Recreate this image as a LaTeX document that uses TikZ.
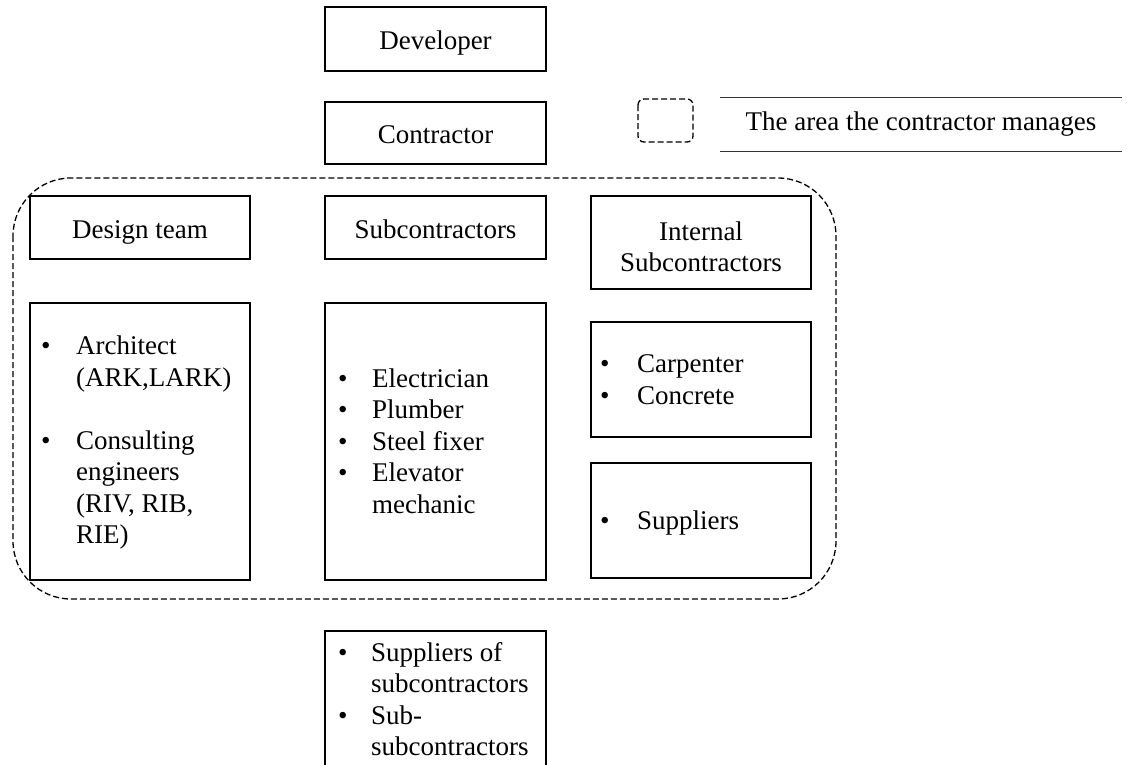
\documentclass[tikz,border=0pt]{standalone}
\usepackage{fontspec}
\setmainfont{Liberation Serif}
\begin{document}
\begin{tikzpicture}[x=1pt,y=-1pt,
  box/.style={draw, line width=1.1pt, inner sep=0pt, align=center,
    minimum width=221pt, font=\fontsize{27}{31.5}\selectfont},
  oneline/.style={text height=25pt, text depth=4pt},
  listtext/.style={anchor=west, inner sep=0pt,
    font=\fontsize{27}{31.5}\selectfont},
  area/.style={draw, dashed, dash pattern=on 6pt off 3pt, line width=1.3pt},
  rule/.style={draw, line width=0.9pt, black!80}]
\clip (0,0) rectangle (1127,764);
\fill[white] (0,0) rectangle (1127,764);

% top of the hierarchy
\node[box, oneline, minimum height=64pt] (dev) at (435.5,39) {Developer};
\node[box, oneline, minimum height=62pt] (con) at (435.5,133) {Contractor};

% column headings
\node[box, oneline, minimum width=220pt, minimum height=63pt] (design) at (140,227.5) {Design team};
\node[box, oneline, minimum height=63pt] (sub) at (435.5,227.5) {Subcontractors};
\node[box, minimum width=220pt, minimum height=93pt] (internal) at (701,242.5) {};
\node[inner sep=0pt, align=center, font=\fontsize{27}{31.5}\selectfont]
  (internaltext) at (701,247) {Internal\\[-1pt]Subcontractors};

% list boxes
\node[box, minimum width=220pt, minimum height=277pt] (designlist) at (140,441.5) {};
\node[box, minimum height=277pt] (sublist) at (435.5,441.5) {};
\node[box, minimum width=220pt, minimum height=115pt] (own) at (701,379.5) {};
\node[box, minimum width=220pt, minimum height=115pt] (supp) at (701,520.5) {};
\node[box, minimum height=140pt] (lower) at (435.5,701) {};

% list contents
\node[listtext] (designitems) at (41,443) {\begin{tabular}{@{}p{35pt}@{}l@{}}
\textbullet & Architect\\
 & (ARK,LARK)\\
 & \\
\textbullet & Consulting\\
 & engineers\\
 & (RIV, RIB,\\
 & RIE)
\end{tabular}};
\node[listtext] (subitems) at (338,444) {\begin{tabular}{@{}p{34pt}@{}l@{}}
\textbullet & Electrician\\
\textbullet & Plumber\\
\textbullet & Steel fixer\\
\textbullet & Elevator\\
 & mechanic
\end{tabular}};
\node[listtext] (ownitems) at (600,382) {\begin{tabular}{@{}p{37pt}@{}l@{}}
\textbullet & Carpenter\\
\textbullet & Concrete
\end{tabular}};
\node[listtext] (suppitems) at (600,523) {\begin{tabular}{@{}p{37pt}@{}l@{}}
\textbullet & Suppliers
\end{tabular}};
\node[listtext] (loweritems) at (338,702) {\begin{tabular}{@{}p{33pt}@{}l@{}}
\textbullet & Suppliers of\\
 & subcontractors\\
\textbullet & Sub-\\
 & subcontractors
\end{tabular}};

% area managed by the contractor
\draw[area, rounded corners=58pt] (13,178) rectangle (836,599);

% legend
\draw[area, rounded corners=6pt] (638,99) rectangle (693,142);
\node[inner sep=0pt, minimum width=402pt, minimum height=53pt,
  font=\fontsize{27}{31.5}\selectfont] (legend) at (921,124.5)
  {The area the contractor manages};
\draw[rule] (legend.north west) -- (legend.north east);
\draw[rule] (legend.south west) -- (legend.south east);
\end{tikzpicture}
\end{document}
